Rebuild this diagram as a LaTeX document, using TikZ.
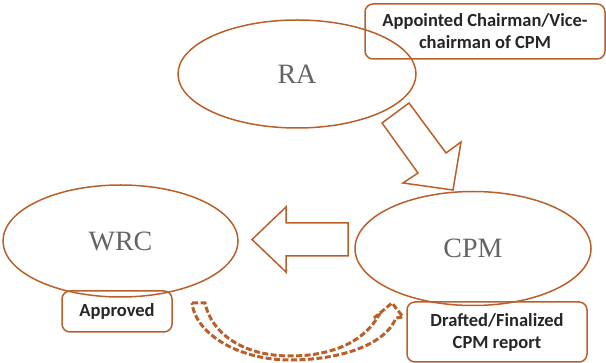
\documentclass[tikz,border=0pt]{standalone}
\usepackage{fontspec}
\setmainfont{Liberation Serif}
\newfontfamily\boxfont{Carlito}
\usetikzlibrary{shapes.geometric}
\definecolor{brd}{RGB}{185,96,42}
\definecolor{txtgray}{RGB}{100,100,100}
\definecolor{txtdark}{RGB}{38,38,38}
\begin{document}
\begin{tikzpicture}[x=1pt,y=-1pt,
  ell/.style={ellipse, draw=brd, line width=1.5pt, inner sep=0pt, font=\fontsize{28}{32}\selectfont, text=txtgray},
  lbl/.style={rectangle, rounded corners=8pt, draw=brd, line width=1.5pt, inner sep=0pt, align=center, font=\boxfont\bfseries\fontsize{18.5}{22}\selectfont, text=txtdark},
  blockarrow/.style={draw=brd, line width=1.5pt, line join=miter},
  dasharrow/.style={draw=brd, line width=3pt, dash pattern=on 6pt off 2.5pt, line join=miter}]
\useasboundingbox (0,0) rectangle (606,363);

% ellipses
\node[ell, minimum width=238pt, minimum height=108pt] (RA) at (297,74) {RA};
\node[ell, minimum width=235pt, minimum height=112pt] (WRC) at (120.5,241) {WRC};
\node[ell, minimum width=236pt, minimum height=114pt] (CPM) at (473,248.5) {CPM};

% labels
\node[lbl, minimum width=240pt, minimum height=55pt] (appt) at (485,31.5) {Appointed Chairman/Vice-\\chairman of CPM};
\node[lbl, minimum width=110pt, minimum height=41pt] (appr) at (117,311.5) {Approved};
\node[lbl, minimum width=180pt, minimum height=60pt] (draft) at (497,332) {Drafted/Finalized\\CPM report};

% block arrow RA -> CPM
\draw[blockarrow] (409,103) -- (446,153) -- (461,142) -- (453,190) -- (403,183) -- (418,173) -- (382,123) -- cycle;

% block arrow CPM -> WRC
\draw[blockarrow] (252,239.5) -- (286,207) -- (286,223) -- (348,223) -- (348,256) -- (286,256) -- (286,272) -- cycle;

% dashed curved arrow Approved -> Drafted
\draw[dasharrow] (192,303) -- (205,303)
  .. controls (212,335) and (245,356) .. (290,356)
  .. controls (335,356) and (365,340) .. (379,315)
  -- (374,318) -- (392,303) -- (403,317) -- (396,318)
  .. controls (385,345) and (340,360) .. (290,360)
  .. controls (240,360) and (196,335) .. (192,303) -- cycle;
\end{tikzpicture}
\end{document}
